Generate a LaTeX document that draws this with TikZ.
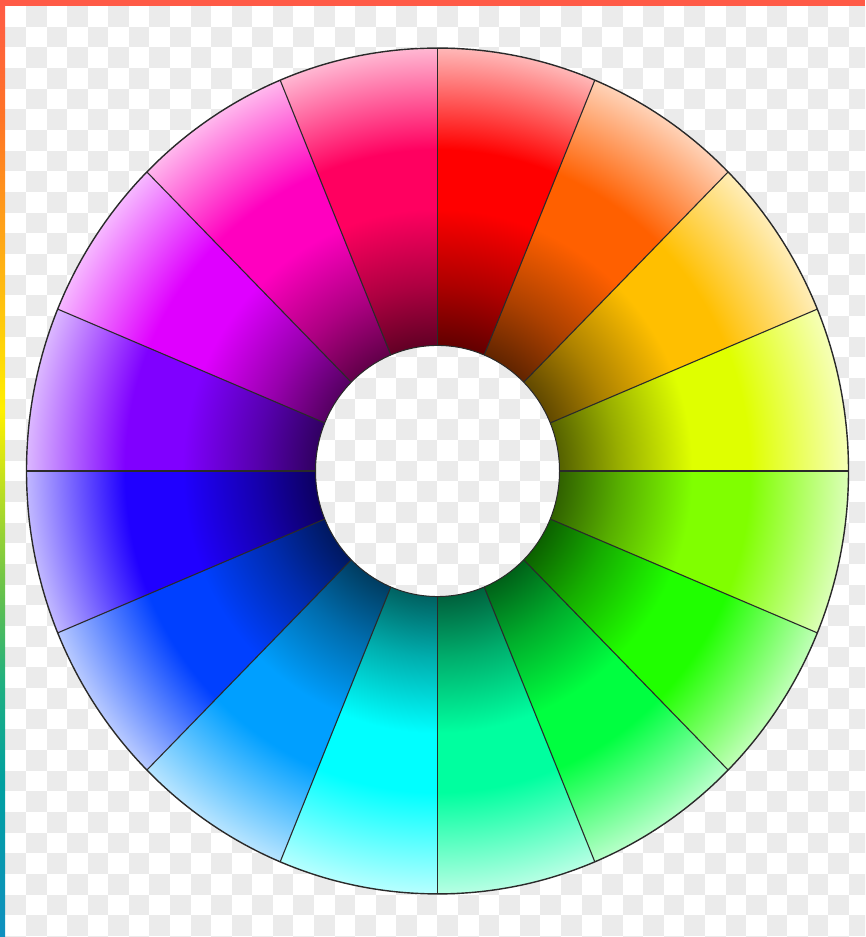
\documentclass[tikz,border=0pt]{standalone}
\usepackage{tikz}
\definecolor{checkgray}{HTML}{EBEBEB}
\definecolor{edgecol}{HTML}{FF5A46}
\definecolor{linecol}{HTML}{2A2A2A}
\definecolor{lbA}{HTML}{1090C0}
\definecolor{lbB}{HTML}{00A0A0}
\definecolor{lbC}{HTML}{20B080}
\definecolor{lbD}{HTML}{60C050}
\definecolor{lbE}{HTML}{C0E020}
\definecolor{lbF}{HTML}{FFF000}
\definecolor{lbG}{HTML}{FFC010}
\definecolor{lbH}{HTML}{FF7525}
\definecolor{lbI}{HTML}{FF5A46}
\definecolor{segc}{rgb}{1,0,0}
\pgfdeclareradialshading[segc]{wheelshade}{\pgfpointorigin}{%
 color(0bp)=(segc!38!black);
 color(7.4bp)=(segc!38!black);
 color(11bp)=(segc!68!black);
 color(15.5bp)=(segc);
 color(19bp)=(segc);
 color(25bp)=(segc!28!white);
 color(50bp)=(segc!28!white)}
\pgfdeclareverticalshading{leftbar}{100bp}{%
 color(0bp)=(lbA); color(25bp)=(lbA); color(33.2bp)=(lbB); color(38.6bp)=(lbC);
 color(43bp)=(lbD); color(49.2bp)=(lbE); color(53.1bp)=(lbF); color(59bp)=(lbG);
 color(68.6bp)=(lbH); color(75bp)=(lbI); color(100bp)=(lbI)}
\tikzset{
 spoke/.style={draw=linecol,line width=1.1pt},
 rim/.style={draw=linecol,line width=1.4pt},
 hub/.style={draw=linecol,line width=1pt},
}
\begin{document}
\begin{tikzpicture}[x=1pt,y=1pt]
\useasboundingbox (0,0) rectangle (865,937);
\fill[white] (0,0) rectangle (865,937);
\begin{scope}
\clip (0,0) rectangle (865,937);
\foreach \r in {0,...,45}{
 \foreach \c in {0,...,41}{
  \pgfmathtruncatemacro\parity{\r+\c}
  \ifodd\parity
   \fill[checkgray] ({5.4+20.575*\c},{931-20.67*(\r+1)}) rectangle ({5.4+20.575*(\c+1)},{931-20.67*\r});
  \fi
 }}
\end{scope}
\begin{scope}[shift={(437.5,466)},yscale=1.029]
\foreach \k in {0,...,15}{
 \pgfmathsetmacro\hue{22.5*\k}
 \pgfmathsetmacro\aA{90-22.5*\k}
 \pgfmathsetmacro\aB{67.5-22.5*\k}
 \definecolor{segtmp}{Hsb}{\hue,1,1}
 \colorlet{segc}[rgb]{segtmp}
 \begin{scope}
  \clip (\aA:122) -- (\aA:411) arc[start angle=\aA,end angle=\aB,radius=411] -- (\aB:122) arc[start angle=\aB,end angle=\aA,radius=122] -- cycle;
  \shade[shading=wheelshade] (0,0) circle[radius=411];
 \end{scope}
}
\foreach \k in {0,...,15}{\draw[spoke] ({22.5*\k}:122) -- ({22.5*\k}:411);}
\draw[rim] (0,0) circle[radius=411];
\draw[hub] (0,0) circle[radius=122];
\end{scope}
\shade[shading=leftbar] (0,0) rectangle (5,937);
\fill[edgecol] (0,931) rectangle (865,937);
\end{tikzpicture}
\end{document}
